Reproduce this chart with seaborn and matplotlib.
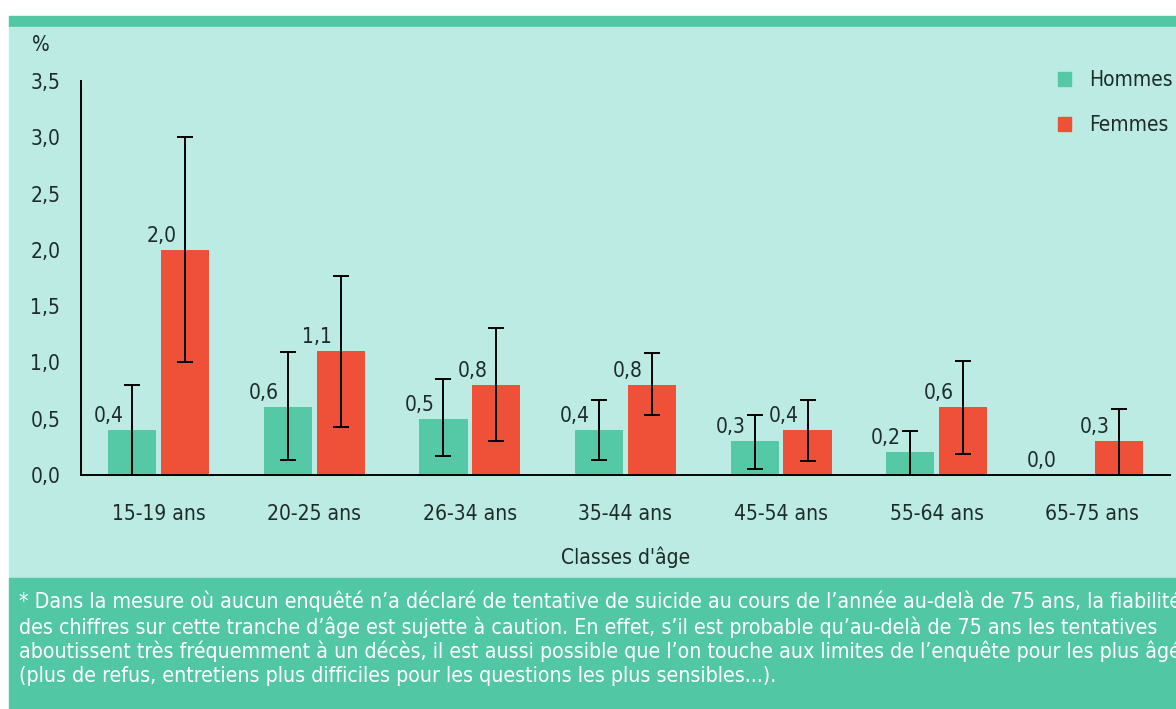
import numpy as np
import pandas as pd
import matplotlib
matplotlib.use("Agg")
import matplotlib.pyplot as plt
from matplotlib.patches import Rectangle, Patch
import seaborn as sns

age_classes = ["15-19 ans", "20-25 ans", "26-34 ans", "35-44 ans", "45-54 ans", "55-64 ans", "65-75 ans"]
hommes = [0.4, 0.6, 0.5, 0.4, 0.3, 0.2, 0.0]
femmes = [2.0, 1.1, 0.8, 0.8, 0.4, 0.6, 0.3]
hommes_low = [0.0, 0.13, 0.17, 0.13, 0.05, 0.0, np.nan]
hommes_high = [0.80, 1.09, 0.85, 0.67, 0.53, 0.39, np.nan]
femmes_low = [1.0, 0.43, 0.30, 0.53, 0.12, 0.19, 0.0]
femmes_high = [3.0, 1.77, 1.31, 1.08, 0.67, 1.01, 0.59]
y_ticks = [0.0, 0.5, 1.0, 1.5, 2.0, 2.5, 3.0, 3.5]

footnote = ("* Dans la mesure où aucun enquêté n\u2019a déclaré de tentative de suicide au cours de l\u2019année au-delà de 75 ans, la fiabilité\n"
            "des chiffres sur cette tranche d\u2019âge est sujette à caution. En effet, s\u2019il est probable qu\u2019au-delà de 75 ans les tentatives\n"
            "aboutissent très fréquemment à un décès, il est aussi possible que l\u2019on touche aux limites de l\u2019enquête pour les plus âgés\n"
            "(plus de refus, entretiens plus difficiles pour les questions les plus sensibles...).")

GREEN = "#55c9a6"
RED = "#ef5138"
BG = "#bbebe3"
BAND = "#52c7a3"
INK = "#1e2b2b"
FS = 15

sns.set_style("white")
plt.rcParams["font.family"] = ["DejaVu Sans"]
plt.rcParams["font.stretch"] = "condensed"

df = pd.DataFrame({
    "age": age_classes * 2,
    "sexe": ["Hommes"] * len(age_classes) + ["Femmes"] * len(age_classes),
    "valeur": hommes + femmes,
})

W, H = 1176, 709
fig = plt.figure(figsize=(W / 100, H / 100), dpi=100)
fig.patch.set_facecolor("white")

# background panels
fig.patches.append(Rectangle((9 / W, (H - 27) / H), 1, 11 / H, transform=fig.transFigure, color=BAND, zorder=0))
fig.patches.append(Rectangle((9 / W, (H - 578) / H), 1, 551 / H, transform=fig.transFigure, color=BG, zorder=0))
fig.patches.append(Rectangle((9 / W, 0), 1, (H - 578) / H, transform=fig.transFigure, color=BAND, zorder=0))

ax = fig.add_axes([81 / W, (H - 475) / H, (1170 - 81) / W, (475 - 81) / H])
ax.set_facecolor("none")
ax.set_zorder(3)

sns.barplot(data=df, x="age", y="valeur", hue="sexe", palette=[GREEN, RED],
            width=0.68, gap=0.09, errorbar=None, legend=False, ax=ax, saturation=1,
            linewidth=0)

# error bars and value labels from bar positions
for container, vals, lo, hi in zip(ax.containers, [hommes, femmes],
                                   [hommes_low, femmes_low], [hommes_high, femmes_high]):
    for bar, v, l, h in zip(container, vals, lo, hi):
        xc = bar.get_x() + bar.get_width() / 2
        if not np.isnan(l):
            ax.errorbar(xc, v, yerr=[[v - l], [h - v]], fmt="none", ecolor="black",
                        elinewidth=1.4, capsize=5.5, capthick=1.4, clip_on=False)
        ax.annotate(f"{v:.1f}".replace(".", ","), (bar.get_x(), v), xytext=(0, 3),
                    textcoords="offset points", ha="center", va="bottom",
                    fontsize=FS, color=INK)

ax.set_ylim(0, 3.5)
ax.set_xlim(-0.5, len(age_classes) - 0.5)
ax.set_yticks(y_ticks)
ax.set_yticklabels([f"{t:.1f}".replace(".", ",") for t in y_ticks])
ax.set_xticks(range(len(age_classes)))
ax.set_xticklabels(age_classes)
ax.set_xticks(np.arange(-0.5, len(age_classes)), minor=True)
ax.tick_params(axis="x", which="major", length=0, pad=21, labelsize=FS, labelcolor=INK)
ax.tick_params(axis="x", which="minor", length=11, width=1.4, color="black", direction="out")
ax.tick_params(axis="y", length=10, width=1.4, color="black", direction="out", pad=5,
               labelsize=FS, labelcolor=INK)
for side in ["top", "right"]:
    ax.spines[side].set_visible(False)
for side in ["left", "bottom"]:
    ax.spines[side].set_color("black")
    ax.spines[side].set_linewidth(1.4)

ax.set_xlabel("Classes d'âge", fontsize=FS, color=INK, labelpad=16)
ax.set_ylabel("")
fig.text(32 / W, (H - 45) / H, "%", fontsize=FS, color=INK, va="center", ha="left")

handles = [Patch(color=GREEN, label="Hommes"), Patch(color=RED, label="Femmes")]
ax.legend(handles=handles, loc="upper right", bbox_to_anchor=(1.02, 1.075), frameon=False,
          fontsize=FS, handlelength=0.67, handleheight=0.67, handletextpad=0.86,
          labelspacing=1.2, labelcolor=INK)

fig.text(19 / W, (H - 591) / H, footnote, fontsize=15.3, color="white", va="top",
         ha="left", linespacing=1.2)

fig.savefig("out.png", dpi=100, facecolor=fig.get_facecolor())
